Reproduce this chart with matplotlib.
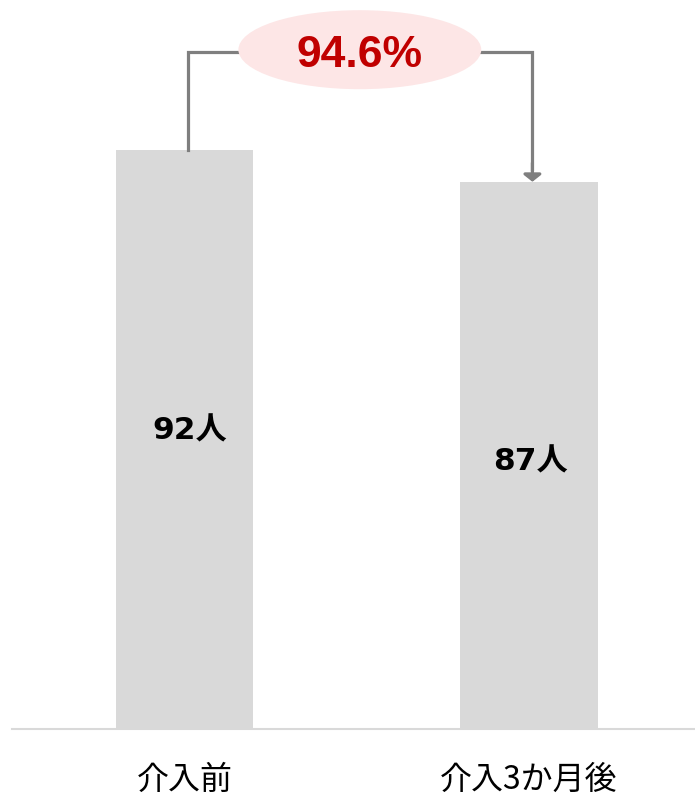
import matplotlib
matplotlib.use("Agg")
import matplotlib.pyplot as plt
from matplotlib.patches import Ellipse

plt.rcParams['font.family'] = ['Noto Sans CJK JP', 'DejaVu Sans']

# データ
categories = ["介入前", "介入3か月後"]
values = [92, 87]
value_labels = ["92人", "87人"]
ratio_label = "94.6%"

fig = plt.figure(figsize=(6.95, 7.96), dpi=100)
ax = fig.add_axes([12 / 695, 67 / 796, 683 / 695, 729 / 796])

x = [0, 1]
ax.bar(x, values, width=0.398, color="#d9d9d9", zorder=2)

# 棒の中のラベル (元の図では少しずれている)
label_y = [values[0] / 2 + 1.4, values[1] / 2 - 1.1]
label_dx = [0.014, 0.004]
for xi, dx, ly, lab in zip(x, label_dx, label_y, value_labels):
    ax.text(xi + dx, ly, lab, ha="center", va="center",
            fontsize=22.5, fontweight="bold", color="black",
            family=["DejaVu Sans", "Noto Sans CJK JP"], zorder=3)

ax.set_xlim(-0.5007, 1.482)
ax.set_ylim(0, 115.9)

# 軸まわり
for s in ["top", "right", "left"]:
    ax.spines[s].set_visible(False)
ax.spines["bottom"].set_color("#d9d9d9")
ax.spines["bottom"].set_linewidth(1.5)
ax.set_yticks([])
ax.set_xticks(x)
ax.set_xticklabels(categories, fontsize=23)
ax.tick_params(axis="x", length=0, pad=25)

# 矢印つきの連結線
top_y = 107.6
lx, rx = 0.01, 1.01
ax.plot([lx, lx, rx, rx], [values[0], top_y, top_y, values[1] + 2],
        color="#7f7f7f", lw=2.3, solid_joinstyle="miter", zorder=3)
ax.annotate("", xy=(rx, values[1]), xytext=(rx, values[1] + 3),
            arrowprops=dict(arrowstyle="-|>,head_length=0.3,head_width=0.38",
                            color="#7f7f7f", lw=2.3,
                            mutation_scale=14, shrinkA=0, shrinkB=0),
            zorder=3)

ell = Ellipse((0.509, 108.0), 0.705, 12.56, facecolor="#fde6e6",
              edgecolor="none", zorder=4, clip_on=False)
ax.add_patch(ell)
ax.text(0.509, 107.1, ratio_label, ha="center", va="center",
        fontsize=32, fontweight="bold", color="#c00000",
        family="Liberation Sans", zorder=5)

fig.savefig("out.png", dpi=100)
